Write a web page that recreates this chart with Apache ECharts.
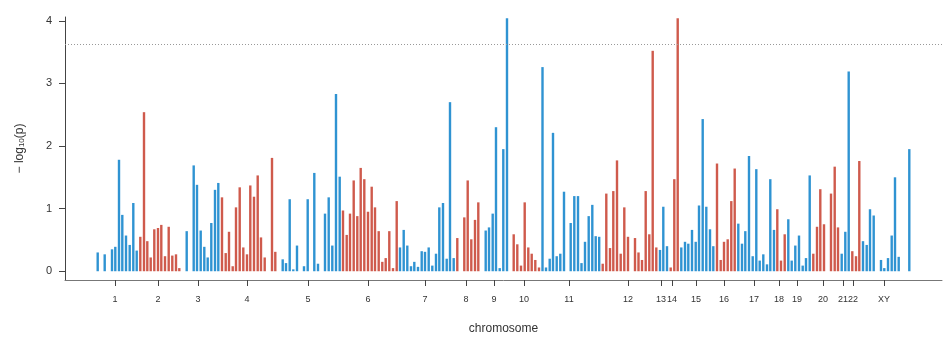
<!DOCTYPE html>
<html>
<head>
<meta charset="utf-8">
<script src="https://cdn.jsdelivr.net/npm/echarts@6/dist/echarts.min.js"></script>
<style>
  html, body { margin: 0; padding: 0; background: #fff; }
  #chart { width: 947px; height: 340px; }
</style>
</head>
<body>
<div id="chart"></div>
<script>
// chromosome tick labels and their positions on the cumulative genome axis
const chrLabels = ['1','2','3','4','5','6','7','8','9','10','11','12','13','14','15','16','17','18','19','20','21','22','XY'];
const chrTicks = [50, 93, 133, 182, 243, 303, 360, 401, 429, 459, 504, 563, 596, 607, 631, 659, 689, 714, 732, 758, 778, 788, 819];
// number of bars in each chromosome, in order
const chrCount = [10, 12, 9, 15, 14, 16, 16, 6, 7, 8, 16, 15, 3, 3, 10, 6, 11, 3, 7, 7, 3, 3, 11];

// cumulative position of each marker
const position = [
  32.7, 39.7, 47, 50.3, 54, 57.3, 61, 64.7, 68.3, 71.7,
  75.3, 79, 82.3, 85.7, 89.3, 93, 96.3, 100, 103.7, 107.3, 111, 114.3,
  121.7, 128.7, 132, 135.7, 139.3, 142.7, 146.3, 150, 153.3,
  157, 160.7, 164, 167.7, 171, 174.7, 178.3, 182, 185.3, 189, 192.7, 196, 199.7, 207, 210.3,
  217.7, 221, 224.7, 228.3, 232, 239, 242.7, 249.3, 253, 260, 263.7, 267.3, 271, 274.7,
  278, 281.7, 285, 288.7, 292.3, 295.7, 299.3, 303, 306.7, 310, 313.7, 317.3, 320.7, 324.3, 328, 331.7,
  335, 338.7, 342.3, 346, 349.3, 353, 356.7, 360, 363.7, 367.3, 371, 374.3, 378, 381.7, 385, 388.7,
  392.3, 399.3, 402.7, 406.3, 410, 413.3,
  420.7, 424, 427.7, 431, 434.7, 438.3, 442,
  448.7, 452.3, 456, 459.7, 463.3, 466.7, 470.3, 474,
  477.5, 481, 484.7, 488, 491.7, 495.3, 499, 505.7, 509.3, 513, 516.5, 520, 523.7, 527.3, 530.7, 534.2,
  537.7, 541.3, 545, 548.3, 552, 555.7, 559.3, 563, 570, 573.5, 577, 580.7, 584.3, 587.7, 591.3,
  595, 598.3, 602,
  605.7, 609.3, 612.7,
  616.3, 620, 623.3, 627, 630.7, 634, 637.7, 641.3, 645, 648.3,
  652, 655.7, 659, 662.7, 666.3, 669.7,
  673.3, 677, 680.3, 684, 687.7, 691.3, 694.7, 698.3, 702, 705.3, 709,
  712.3, 716, 719.7,
  723.3, 726.7, 730.3, 734, 737.7, 741, 744.7,
  748.3, 752, 755.3, 759, 766, 769.7, 773,
  776.7, 780.3, 783.7,
  787.3, 791, 794.3,
  798, 801.7, 805, 808.7, 816, 819.3, 823, 826.7, 830, 833.7, 844.3
];

// -log10(p) of each marker
const logP = [
  0.30, 0.27, 0.35, 0.39, 1.78, 0.90, 0.57, 0.42, 1.09, 0.33,
  0.55, 2.54, 0.48, 0.22, 0.67, 0.69, 0.74, 0.24, 0.71, 0.25, 0.27, 0.05,
  0.64, 1.69, 1.38, 0.65, 0.39, 0.22, 0.77, 1.30, 1.41,
  1.18, 0.29, 0.63, 0.08, 1.02, 1.34, 0.38, 0.27, 1.37, 1.19, 1.53, 0.54, 0.22, 1.81, 0.31,
  0.19, 0.13, 1.15, 0.03, 0.41, 0.08, 1.15, 1.57, 0.12, 0.92, 1.18, 0.41, 2.83, 1.51,
  0.97, 0.58, 0.92, 1.45, 0.88, 1.65, 1.47, 0.95, 1.35, 1.02, 0.64, 0.15, 0.21, 0.64, 0.05, 1.12,
  0.38, 0.66, 0.41, 0.08, 0.15, 0.07, 0.32, 0.31, 0.38, 0.09, 0.28, 1.02, 1.09, 0.20, 2.70, 0.21,
  0.53, 0.86, 1.45, 0.51, 0.82, 1.10,
  0.65, 0.70, 0.92, 2.30, 0.05, 1.95, 4.04,
  0.59, 0.43, 0.09, 1.10, 0.38, 0.28, 0.18, 0.06,
  3.26, 0.06, 0.20, 2.21, 0.24, 0.28, 1.27, 0.77, 1.20, 1.20, 0.13, 0.47, 0.88, 1.06, 0.56, 0.55,
  0.12, 1.24, 0.37, 1.28, 1.77, 0.28, 1.02, 0.55, 0.53, 0.30, 0.18, 1.28, 0.59, 3.52, 0.38,
  0.34, 1.03, 0.40,
  0.06, 1.47, 4.04,
  0.38, 0.47, 0.44, 0.66, 0.47, 1.05, 2.43, 1.03, 0.67, 0.40,
  1.72, 0.18, 0.47, 0.51, 1.12, 1.64,
  0.76, 0.44, 0.64, 1.84, 0.24, 1.63, 0.17, 0.27, 0.11, 1.47, 0.66,
  0.99, 0.17, 0.59,
  0.83, 0.17, 0.41, 0.57, 0.09, 0.21, 1.53,
  0.28, 0.71, 1.31, 0.75, 1.24, 1.67, 0.70,
  0.28, 0.63, 3.19,
  0.32, 0.24, 1.76,
  0.48, 0.42, 0.99, 0.89, 0.18, 0.05, 0.21, 0.57, 1.50, 0.23, 1.95
];

const threshold = 3.63;
const colors = ['#2f93d2', '#cf5a4c'];

// 每个点按染色体交替着色
let barData = [];
let k = 0;
chrCount.forEach((n, c) => {
  for (let i = 0; i < n; i++) {
    barData.push({
      value: [position[k], logP[k]],
      itemStyle: { color: colors[c % 2] }
    });
    k++;
  }
});

let chart = echarts.init(document.getElementById('chart'));
let option = {
  animation: false,
  textStyle: { fontFamily: 'Liberation Sans, Arial, sans-serif' },
  grid: { left: 65, right: 5, top: 17, bottom: 54 },
  xAxis: {
    type: 'value',
    min: 0,
    max: 877,
    name: 'chromosome',
    nameLocation: 'middle',
    nameGap: 43,
    nameTextStyle: { fontSize: 12, color: '#333' },
    splitLine: { show: false },
    axisLine: { show: true, onZero: false, lineStyle: { color: '#777', width: 1 } },
    axisTick: {
      show: true,
      length: 6,
      customValues: chrTicks,
      lineStyle: { color: '#444' }
    },
    axisLabel: {
      customValues: chrTicks,
      margin: 15,
      fontSize: 9,
      color: '#333',
      formatter: function (v) {
        let i = chrTicks.indexOf(v);
        return i >= 0 ? chrLabels[i] : '';
      }
    }
  },
  yAxis: {
    type: 'value',
    min: -0.14,
    max: 4.06,
    name: '− log{s|10}(p)',
    nameLocation: 'middle',
    nameGap: 39,
    nameTextStyle: {
      fontSize: 12,
      color: '#333',
      rich: { s: { fontSize: 8, color: '#333', padding: [5, 0, 0, 0] } }
    },
    splitLine: { show: false },
    axisLine: { show: true, onZero: false, lineStyle: { color: '#444', width: 1 } },
    axisTick: {
      show: true,
      length: 6,
      customValues: [0, 1, 2, 3, 4],
      lineStyle: { color: '#444' }
    },
    axisLabel: {
      customValues: [0, 1, 2, 3, 4],
      margin: 13,
      fontSize: 11,
      color: '#333'
    }
  },
  series: [
    {
      type: 'bar',
      data: barData,
      barWidth: 2.4,
      markLine: {
        silent: true,
        symbol: 'none',
        label: { show: false },
        lineStyle: { color: '#999', type: [1, 2], width: 1 },
        data: [{ yAxis: threshold }]
      }
    }
  ]
};
chart.setOption(option);
</script>
</body>
</html>
